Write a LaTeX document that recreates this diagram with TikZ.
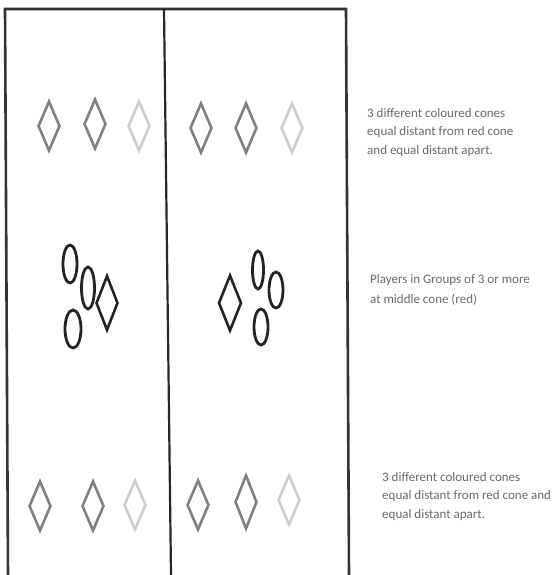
\documentclass[tikz,border=0pt]{standalone}
\usepackage{fontspec}
\newfontfamily\notefont{Carlito}
\usetikzlibrary{shapes.geometric}
\definecolor{conegrey}{RGB}{128,128,128}
\definecolor{faintgrey}{RGB}{205,205,205}
\definecolor{playerink}{RGB}{35,35,35}
\definecolor{noteink}{RGB}{105,105,105}

\begin{document}
\begin{tikzpicture}[x=1pt, y=-1pt,
  cone/.style={diamond, draw=conegrey, line width=2.6pt, inner sep=0pt,
    minimum width=22pt, minimum height=50pt},
  faintcone/.style={cone, draw=faintgrey},
  redcone/.style={cone, draw=playerink, line width=2.6pt, minimum height=55pt},
  player/.style={ellipse, draw=playerink, line width=2.8pt, inner sep=0pt,
    minimum width=14pt, minimum height=38pt},
  note/.style={anchor=north west, inner sep=0pt, align=left, text=noteink,
    font=\notefont\fontsize{13}{18.5}\selectfont}]
  \useasboundingbox (0,0) rectangle (556,575);
  % Pitch: two channels
  \draw[line width=2.6pt, black!80] (8,575) -- (5,9) -- (346,9) -- (349,575);
  \draw[line width=2.2pt, black!85] (164,9) -- (171,575);
  % Top row of cones
  \node[cone] (tl1) at (49,126) {};
  \node[cone] (tl2) at (95,124) {};
  \node[faintcone] (tl3) at (139,126) {};
  \node[cone] (tr1) at (201,128) {};
  \node[cone] (tr2) at (246,128) {};
  \node[faintcone] (tr3) at (292,128) {};
  % Middle: players round the red cone
  \node[player] (pl1) at (70,264) {};
  \node[player, minimum width=13pt, minimum height=42pt] (pl2) at (88,288) {};
  \node[player, minimum width=16pt] (pl3) at (73,329) {};
  \node[redcone] (ml) at (107,303) {};
  \node[redcone, minimum width=23pt, minimum height=56pt] (mr) at (230,303) {};
  \node[player, minimum width=11pt] (pr1) at (258,270) {};
  \node[player, minimum height=36pt] (pr2) at (276,290) {};
  \node[player, minimum height=36pt] (pr3) at (261,327) {};
  % Bottom row of cones
  \node[cone] (bl1) at (40,506) {};
  \node[cone] (bl2) at (93,506) {};
  \node[faintcone] (bl3) at (135,505) {};
  \node[cone] (br1) at (198,505) {};
  \node[cone, minimum height=54pt] (br2) at (246,502) {};
  \node[faintcone] (br3) at (289,500) {};
  % Notes
  \node[note] (topnote) at (367,108)
    {3 different coloured cones\\equal distant from red cone\\and equal distant apart.};
  \node[note, font=\notefont\fontsize{13}{20}\selectfont] (midnote) at (370,274)
    {Players in Groups of 3 or more\\at middle cone (red)};
  \node[note] (botnote) at (382,472)
    {3 different coloured cones\\equal distant from red cone and\\equal distant apart.};
\end{tikzpicture}
\end{document}
